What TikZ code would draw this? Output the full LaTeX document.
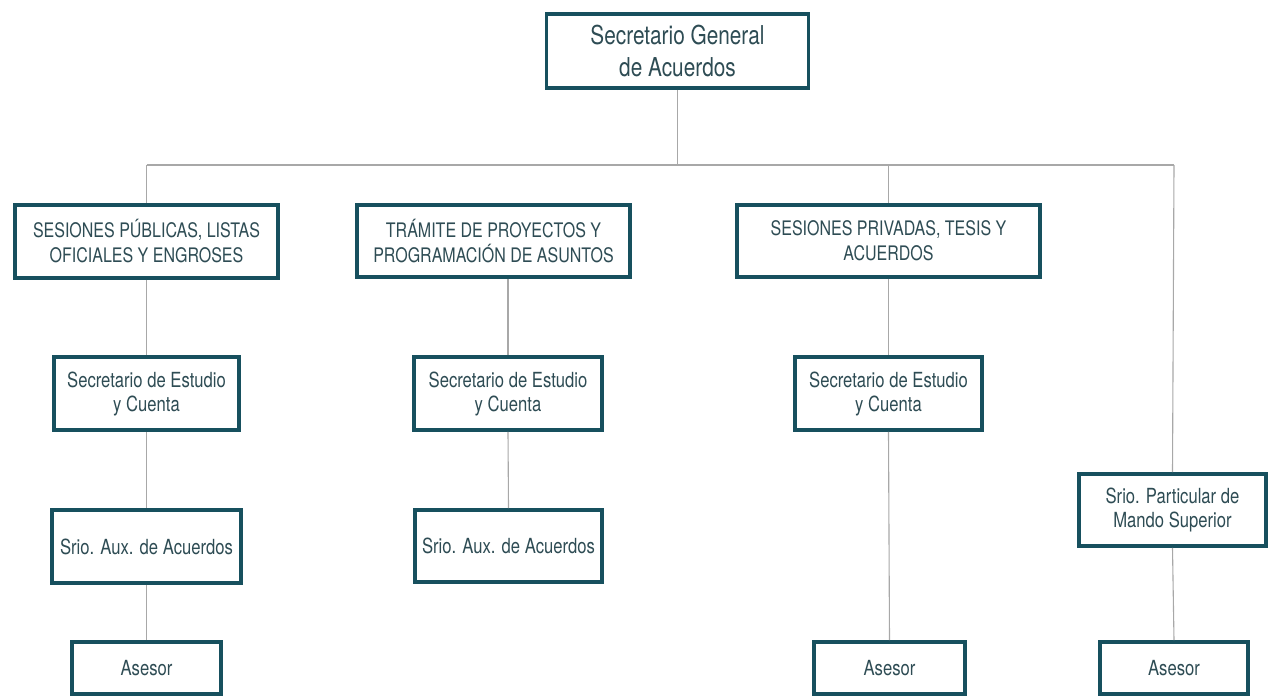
\documentclass[tikz,border=0pt]{standalone}
\usepackage{fontspec}
\setmainfont{TeX Gyre Heros}[FakeStretch=0.8]
\definecolor{boxcol}{HTML}{17505E}
\definecolor{txtcol}{HTML}{2E4C54}
\definecolor{linecol}{HTML}{A8A8A8}
\begin{document}
\begin{tikzpicture}[x=0.5pt,y=-0.5pt,
  box/.style={draw=boxcol,line width=1.9pt,fill=white,text=txtcol,align=center,inner sep=0pt,
    font=\fontsize{10.4pt}{12pt}\selectfont},
  bigbox/.style={box,font=\fontsize{13pt}{16pt}\selectfont},
  capbox/.style={box,font=\fontsize{10pt}{12.5pt}\selectfont},
  conn/.style={draw=linecol,line width=0.55pt}]
\useasboundingbox (0,0) rectangle (1270,698);
\fill[white] (0,0) rectangle (1270,698);
% nodes
\node[bigbox,minimum width=131pt,minimum height=37pt] (top) at (677.5,51) {Secretario General\\de Acuerdos};
\node[capbox,minimum width=131.5pt,minimum height=36.5pt] (b1) at (146.5,241.5) {SESIONES PÚBLICAS, LISTAS\\OFICIALES Y ENGROSES};
\node[capbox,minimum width=136.5pt,minimum height=36pt] (b2) at (493.5,241) {TRÁMITE DE PROYECTOS Y\\PROGRAMACIÓN DE ASUNTOS};
\node[capbox,minimum width=151.5pt,minimum height=36pt] (b3) at (888.5,241) {SESIONES PRIVADAS, TESIS Y\\ACUERDOS};
\node[box,minimum width=92.5pt,minimum height=36.5pt] (s1) at (146.5,393.5) {Secretario de Estudio\\y Cuenta};
\node[box,minimum width=94pt,minimum height=36.5pt] (s2) at (508,393.5) {Secretario de Estudio\\y Cuenta};
\node[box,minimum width=93.5pt,minimum height=36.5pt] (s3) at (888.5,393.5) {Secretario de Estudio\\y Cuenta};
\node[box,minimum width=94.5pt,minimum height=36.5pt] (a1) at (146.5,546.5) {Srio. Aux. de Acuerdos};
\node[box,minimum width=93.5pt,minimum height=36pt] (a2) at (508.5,546) {Srio. Aux. de Acuerdos};
\node[box,minimum width=93.5pt,minimum height=36pt] (p) at (1172.5,510) {Srio. Particular de\\Mando Superior};
\node[box,minimum width=74.5pt,minimum height=26pt] (e1) at (146.5,668) {Asesor};
\node[box,minimum width=75.5pt,minimum height=26pt] (e2) at (889.5,668) {Asesor};
\node[box,minimum width=74pt,minimum height=26pt] (e3) at (1174,668) {Asesor};
% junctions
\coordinate (j1) at (146.5,165);
\coordinate (j3) at (888.5,165);
\coordinate (j4) at (1174,165);
% connectors
\begin{scope}[on background layer/.style={}]
\end{scope}
\draw[conn] (j1) -- (j4);
\draw[conn] (top.south) -- (top.south |- j1);
\draw[conn] (j1) -- (b1.north);
\draw[conn] (j3) -- (b3.north);
\draw[conn] (j4) -- (p.north);
\draw[conn] (b1.south) -- (s1.north);
\draw[conn] (s1.south) -- (a1.north);
\draw[conn] (a1.south) -- (e1.north);
\draw[conn] (s2.north |- b2.south) -- (s2.north);
\draw[conn] (s2.south) -- (a2.north);
\draw[conn] (b3.south) -- (s3.north);
\draw[conn] (s3.south) -- (e2.north);
\draw[conn] (p.south) -- (e3.north);
\end{tikzpicture}
\end{document}
